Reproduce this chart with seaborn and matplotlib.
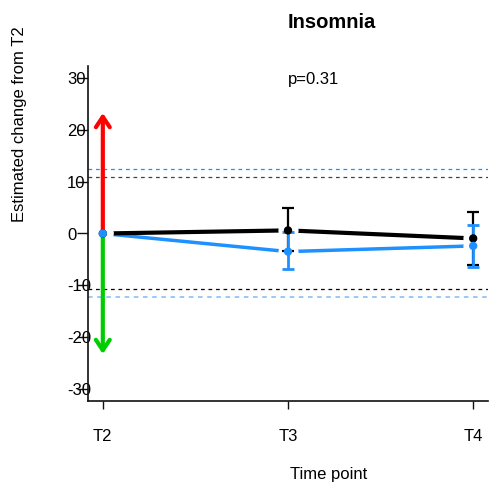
import matplotlib
matplotlib.use("Agg")
import matplotlib.pyplot as plt
import matplotlib.transforms as mtransforms
import numpy as np
import pandas as pd
import seaborn as sns

# ---- data -------------------------------------------------------------
time_labels = ["T2", "T3", "T4"]
time_pos = [1, 2, 3]

# black series: estimate and 95% CI
black_est = [0.0, 0.6, -0.95]
black_lo = [0.0, -3.4, -6.1]
black_hi = [0.0, 5.0, 4.2]

# blue series: estimate and 95% CI
blue_est = [0.0, -3.5, -2.4]
blue_lo = [0.0, -6.9, -6.5]
blue_hi = [0.0, 0.23, 1.65]

# clinically relevant thresholds (upper, lower)
black_threshold = [11.0, -10.7]
blue_threshold = [12.5, -12.2]

# arrows marking direction of improvement / worsening
arrow_up_end = 23.3
arrow_down_end = -23.3

y_ticks = [-30, -20, -10, 0, 10, 20, 30]
title_text = "Insomnia"
p_text = "p=0.31"
p_text_y = 29.7

# ---- styling ------------------------------------------------------------
sns.set_style("white")
plt.rcParams["font.family"] = ["Liberation Sans", "DejaVu Sans"]
plt.rcParams["text.color"] = "black"
plt.rcParams["xtick.color"] = "black"
plt.rcParams["ytick.color"] = "black"
plt.rcParams["axes.labelcolor"] = "black"

BLACK = "#000000"
BLUE = "#1E90FF"
LIGHT_BLUE = "#7FBBF7"
RED = "#FF0000"
GREEN = "#00CD00"

df_black = pd.DataFrame({"x": time_pos, "est": black_est, "lo": black_lo, "hi": black_hi})
df_blue = pd.DataFrame({"x": time_pos, "est": blue_est, "lo": blue_lo, "hi": blue_hi})

fig = plt.figure(figsize=(4.95, 4.86), dpi=100)
ax = fig.add_axes([88 / 495, 1 - 401 / 486, 400 / 495, 335 / 486])

ax.set_xlim(0.92, 3.08)
ax.set_ylim(-32.4, 32.4)

# threshold lines
dash = (0, (3, 3))
ax.axhline(blue_threshold[0], color=BLUE, lw=0.9, ls=dash, zorder=1)
ax.axhline(black_threshold[0], color="#444444", lw=0.9, ls=dash, zorder=1)
ax.axhline(black_threshold[1], color=BLACK, lw=0.9, ls=dash, zorder=1)
ax.axhline(blue_threshold[1], color=LIGHT_BLUE, lw=1.1, ls=dash, zorder=1)

# connecting lines
sns.lineplot(data=df_blue, x="x", y="est", color=BLUE, lw=2.5, ax=ax,
             sort=False, legend=False, zorder=2)
sns.lineplot(data=df_black, x="x", y="est", color=BLACK, lw=3.0, ax=ax,
             sort=False, legend=False, zorder=3)

# white gaps around the points (lines broken at each point)
for d in (df_black, df_blue):
    ax.plot(d["x"], d["est"], ls="none", marker="o", markersize=14.5,
            markerfacecolor="white", markeredgecolor="none", zorder=4)

# direction arrows at baseline
arrow_kw = dict(arrowstyle="->,head_length=0.75,head_width=0.5", lw=3.0,
                shrinkA=0, shrinkB=0, mutation_scale=10)
ax.annotate("", xy=(time_pos[0], arrow_up_end), xytext=(time_pos[0], 0),
            arrowprops=dict(color=RED, **arrow_kw), zorder=5)
ax.annotate("", xy=(time_pos[0], arrow_down_end), xytext=(time_pos[0], 0),
            arrowprops=dict(color=GREEN, **arrow_kw), zorder=5)

# confidence intervals
for d, col, lw, z in ((df_black, BLACK, 1.6, 6), (df_blue, BLUE, 2.0, 7)):
    m = d["hi"] > d["lo"]
    sub = d[m]
    ax.errorbar(sub["x"], sub["est"],
                yerr=[sub["est"] - sub["lo"], sub["hi"] - sub["est"]],
                fmt="none", ecolor=col, elinewidth=lw, capsize=4.2,
                capthick=lw, zorder=z)

# points
sns.scatterplot(data=df_black, x="x", y="est", color=BLACK, s=36,
                edgecolor="none", ax=ax, legend=False, zorder=8)
sns.scatterplot(data=df_blue, x="x", y="est", color=BLUE, s=36,
                edgecolor="none", ax=ax, legend=False, zorder=9)

# axes
ax.set_xticks(time_pos)
ax.set_xticklabels(time_labels)
ax.set_yticks(y_ticks)
ax.set_yticklabels([str(v) for v in y_ticks])
ax.set_xlabel("")
ax.set_ylabel("")
for s in ("top", "right"):
    ax.spines[s].set_visible(False)
for s in ("left", "bottom"):
    ax.spines[s].set_color("#111111")
    ax.spines[s].set_linewidth(1.2)
ax.tick_params(axis="x", direction="out", length=6, width=1.0, color="#111111",
               pad=14, labelsize=12, bottom=True, labelcolor="black")
ax.tick_params(axis="y", direction="out", length=8, width=1.0, color="#111111",
               pad=7.2, labelsize=12, left=True, labelcolor="black")
for lab in ax.get_yticklabels():
    lab.set_horizontalalignment("left")
    lab.set_zorder(0)

# title and p-value, left-aligned at the middle time point
trans = mtransforms.blended_transform_factory(ax.transData, ax.transAxes)
ax.text(time_pos[1], (401 - 22) / 335, title_text, transform=trans,
        ha="left", va="center", fontsize=14.5, fontweight="bold")
ax.text(time_pos[1], p_text_y, p_text, ha="left", va="center", fontsize=12)

fig.text(20 / 495, 1 - 124 / 486, "Estimated change from T2", rotation=90,
         ha="center", va="center", fontsize=12)
fig.text(329 / 495, 1 - 474 / 486, "Time point", ha="center", va="center",
         fontsize=12)

fig.savefig("out.png", dpi=100, facecolor="white")
